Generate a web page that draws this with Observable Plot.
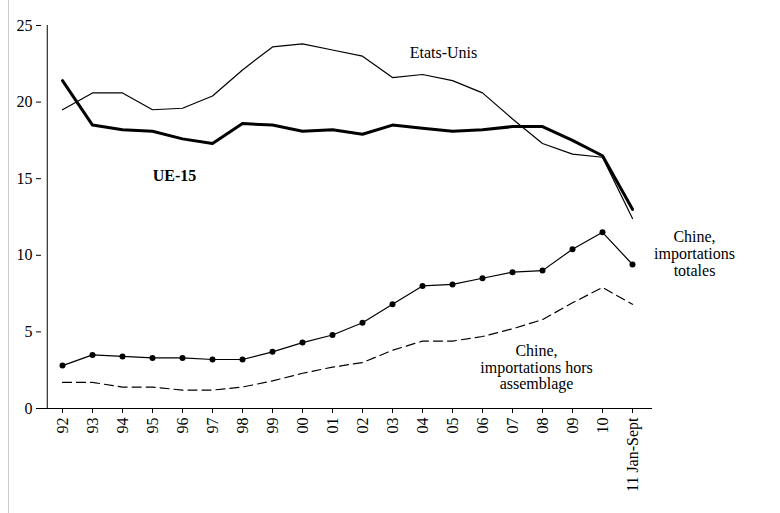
<!DOCTYPE html>
<html><head><meta charset="utf-8">
<script src="https://cdn.jsdelivr.net/npm/d3@7"></script>
<script src="https://cdn.jsdelivr.net/npm/@observablehq/plot@0.6"></script>
<style>body{margin:0;background:#fff}#chart{position:relative;width:780px;height:513px}#chart:before{content:"";position:absolute;left:8px;top:0;bottom:0;border-left:1px solid #ccc}</style>
</head><body><div id="chart"></div>
<script>
const years = ['92','93','94','95','96','97','98','99','00','01','02','03','04','05','06','07','08','09','10','11 Jan-Sept']
const etatsUnis = [19.5,20.6,20.6,19.5,19.6,20.4,22.1,23.6,23.8,23.4,23.0,21.6,21.8,21.4,20.6,18.9,17.3,16.6,16.4,12.4]
const ue15 = [21.4,18.5,18.2,18.1,17.6,17.3,18.6,18.5,18.1,18.2,17.9,18.5,18.3,18.1,18.2,18.4,18.4,17.5,16.5,13.0]
const chineTot = [2.8,3.5,3.4,3.3,3.3,3.2,3.2,3.7,4.3,4.8,5.6,6.8,8.0,8.1,8.5,8.9,9.0,10.4,11.5,9.4]
const chineHors = [1.7,1.7,1.4,1.4,1.2,1.2,1.4,1.8,2.3,2.7,3.0,3.8,4.4,4.4,4.7,5.2,5.8,6.9,7.9,6.8]

const rows = (vals) => years.map((y, i) => ({year: y, v: vals[i]}))
const font = "'Liberation Serif', 'Times New Roman', serif"
const lbl = (year, v, text, opts = {}) =>
  Plot.text([{year, v}], {x: 'year', y: 'v', text: () => text, fontFamily: font, fontSize: 16, lineHeight: 1.05, ...opts})

const chart = Plot.plot({
  width: 780, height: 513,
  marginLeft: 41, marginRight: 128, marginTop: 25, marginBottom: 105,
  style: {fontFamily: font, fontSize: '16px', color: '#000'},
  x: {type: 'point', domain: years, padding: 0.5, label: null},
  y: {domain: [0, 25], label: null},
  marks: [
    Plot.axisX({tickRotate: -90, tickSize: 5, fontSize: 16, fontFamily: font, label: null}),
    Plot.axisY({ticks: [0,5,10,15,20,25], tickSize: 5, fontSize: 16, fontFamily: font, label: null}),
    Plot.ruleY([0]),
    Plot.ruleX([years[0]], {dx: -15.25, y1: 0, y2: 25}),
    Plot.line(rows(etatsUnis), {x: 'year', y: 'v', strokeWidth: 1.2}),
    Plot.line(rows(ue15), {x: 'year', y: 'v', strokeWidth: 3}),
    Plot.line(rows(chineTot), {x: 'year', y: 'v', strokeWidth: 1.2}),
    Plot.dot(rows(chineTot), {x: 'year', y: 'v', r: 3, fill: 'black'}),
    Plot.line(rows(chineHors), {x: 'year', y: 'v', strokeWidth: 1.2, strokeDasharray: '9,5'}),
    lbl('05', 23.2, 'Etats-Unis', {dx: -9}),
    lbl('96', 15.2, 'UE-15', {dx: -8, fontWeight: 'bold'}),
    lbl('11 Jan-Sept', 10.1, 'Chine,\nimportations\ntotales', {dx: 62}),
    lbl('08', 2.7, 'Chine,\nimportations hors\nassemblage', {dx: -6})
  ]
})
d3.select('#chart').append(() => chart)
</script></body></html>
